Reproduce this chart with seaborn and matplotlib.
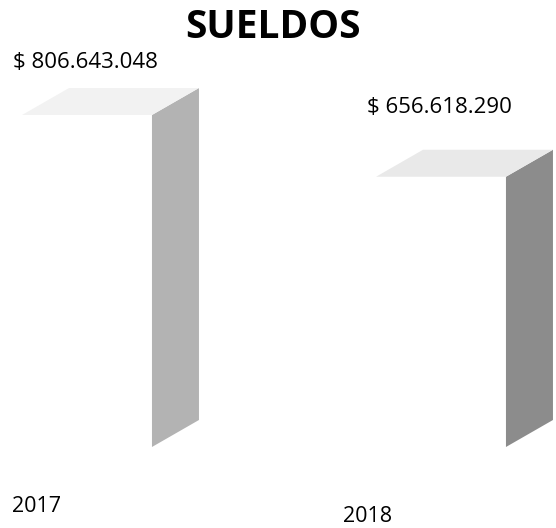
import numpy as np
import pandas as pd
import matplotlib.pyplot as plt
from matplotlib.patches import Polygon
import seaborn as sns

# datos
anios = ['2017', '2018']
sueldos = [806643048, 656618290]
etiquetas = ['$ 806.643.048', '$ 656.618.290']

# colores de las caras laterales / superiores (aspecto 3D escaneado)
color_lado = ['#b3b3b3', '#8c8c8c']
color_tope = ['#f2f2f2', '#e9e9e9']

sns.set_theme(style='white')
plt.rcParams['font.family'] = ['Open Sans', 'DejaVu Sans']

df = pd.DataFrame({'anio': anios, 'sueldos': sueldos})

W, H = 556, 528
fig = plt.figure(figsize=(W / 100, H / 100), dpi=100)
ax = fig.add_axes([0, 0, 1, 1])

sns.barplot(data=df, x='anio', y='sueldos', color='white', saturation=1,
            width=0.367, ax=ax)

# escala: pixeles por categoria y por peso
px_cat = 354
base_px = 447
k = 332 / sueldos[0]
ax.set_xlim(-87 / px_cat, -87 / px_cat + W / px_cat)
ax.set_ylim(-(H - base_px) / k, base_px / k)
ax.axis('off')

# profundidad del efecto 3D
dx = 47 / px_cat
dy = 27 / k

for i, p in enumerate(ax.patches):
    x0 = p.get_x()
    x1 = x0 + p.get_width()
    h = p.get_height()
    lado = Polygon([(x1, 0), (x1 + dx, dy), (x1 + dx, h + dy), (x1, h)],
                   closed=True, facecolor=color_lado[i], edgecolor='none')
    tope = Polygon([(x0, h), (x1, h), (x1 + dx, h + dy), (x0 + dx, h + dy)],
                   closed=True, facecolor=color_tope[i], edgecolor='none')
    ax.add_patch(lado)
    ax.add_patch(tope)

# etiquetas de valor
off_valor = [53, 69]
for i, p in enumerate(ax.patches[:len(sueldos)]):
    cx = p.get_x() + p.get_width() / 2
    ax.text(cx - 2 / px_cat, p.get_height() + off_valor[i] / k, etiquetas[i],
            ha='center', va='center', fontsize=16, color='black')

# etiquetas de anio
off_x = [-50, -73]
pos_y = [506, 516]
for i, a in enumerate(anios):
    ax.text(i + off_x[i] / px_cat, (base_px - pos_y[i]) / k, a,
            ha='center', va='center', fontsize=15.5, color='black')

fig.text(273 / W, 1 - 28 / H, 'SUELDOS', ha='center', va='center',
         fontsize=28, fontweight='bold', color='black')

fig.savefig('out.png', dpi=100)
